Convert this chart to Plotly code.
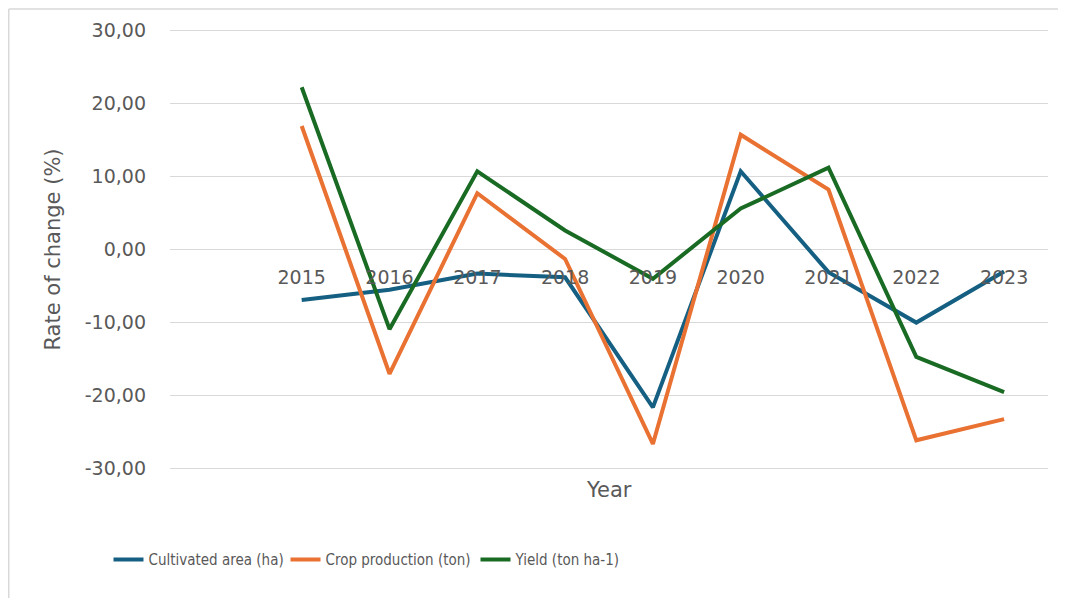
import plotly.graph_objects as go

years = [2015, 2016, 2017, 2018, 2019, 2020, 2021, 2022, 2023]
cultivated_area = [-6.9, -5.5, -3.3, -3.8, -21.6, 10.7, -3.1, -10.0, -3.0]
crop_production = [16.9, -17.0, 7.7, -1.3, -26.6, 15.7, 8.2, -26.1, -23.2]
yield_rate = [22.2, -10.9, 10.7, 2.6, -4.0, 5.6, 11.2, -14.7, -19.5]
y_ticks = [-30, -20, -10, 0, 10, 20, 30]
y_tick_text = ["-30,00", "-20,00", "-10,00", "0,00", "10,00", "20,00", "30,00"]

TXT = "#595959"
FONT = "DejaVu Sans"

W, H = 1058, 590
L, R, T, B = 162, 18, 19.8, 126.8
PW, PH = W - L - R, H - T - B


def px_x(fx):
    return (fx - L) / PW


def px_y(fy):
    return (T + PH - fy) / PH


fig = go.Figure()
series = [
    ("Cultivated area (ha)", cultivated_area, "#156082", "legend", 100.5),
    ("Crop production (ton)", crop_production, "#E97132", "legend2", 277.5),
    ("Yield (ton ha-1)", yield_rate, "#196B24", "legend3", 467.5),
]
legend_font = dict(family="DejaVu Sans Condensed, sans-serif", size=15, color=TXT)
legends = {}
for name, vals, col, lg, lx in series:
    fig.add_trace(go.Scatter(x=years, y=vals, mode="lines", name=name, legend=lg,
                             line=dict(color=col, width=4)))
    legends[lg] = dict(orientation="h", x=px_x(lx), xanchor="left", y=px_y(552),
                       yanchor="middle", font=legend_font, itemwidth=30,
                       bgcolor="rgba(0,0,0,0)")

fig.update_layout(
    width=W, height=H,
    margin=dict(l=L, r=R, t=T, b=B),
    paper_bgcolor="white", plot_bgcolor="white",
    font=dict(family=FONT, color=TXT, size=19),
    showlegend=True,
    **legends,
    xaxis=dict(range=[2013.5, 2023.5], tickmode="array", tickvals=years,
               ticktext=[str(y) for y in years], anchor="free", position=0.5,
               showgrid=False, zeroline=False, showline=False, ticks="",
               ticklabelstandoff=14, tickfont=dict(size=19, color=TXT)),
    yaxis=dict(range=[-30.3, 30.3], tickmode="array", tickvals=y_ticks, ticktext=y_tick_text,
               showgrid=True, gridcolor="#d9d9d9", gridwidth=1.3, zeroline=False,
               showline=False, ticks="", ticklabelstandoff=23,
               title=dict(text="Rate of change (%)", font=dict(size=21, color=TXT), standoff=18)),
    shapes=[
        dict(type="line", xref="paper", yref="paper",
             x0=px_x(0.75), x1=px_x(W + 20), y0=px_y(0.75), y1=px_y(0.75),
             line=dict(color="#d9d9d9", width=1.5), layer="below"),
        dict(type="line", xref="paper", yref="paper",
             x0=px_x(0.75), x1=px_x(0.75), y0=px_y(0.75), y1=px_y(H + 20),
             line=dict(color="#d9d9d9", width=1.5), layer="below"),
    ],
    annotations=[dict(text="Year", xref="paper", yref="paper", x=0.5, y=px_y(482),
                      xanchor="center", yanchor="middle", showarrow=False,
                      font=dict(size=21, color=TXT, family=FONT))],
)

fig.write_html("out.html")
